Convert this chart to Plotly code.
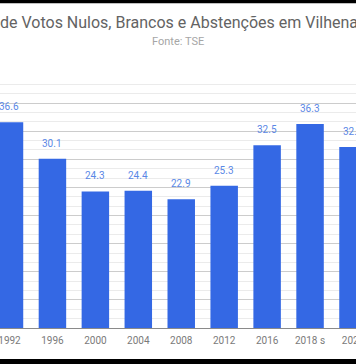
import plotly.graph_objects as go

years = ["1992", "1996", "2000", "2004", "2008", "2012", "2016", "2018 s", "2020"]
values = [36.6, 30.1, 24.3, 24.4, 22.9, 25.3, 32.5, 36.3, 32.2]
title_text = "de Votos Nulos, Brancos e Abstenções em Vilhena"
subtitle_text = "Fonte: TSE"

BAR = "#3468e4"
W, H = 356, 364
top_m, bot_m = 75, 36
plot_h = H - top_m - bot_m
Y_MAX, MAJOR = 45, 5
minor_vals = [k * MAJOR / 3 for k in range(int(Y_MAX / MAJOR * 3) + 1) if k % 3]

fig = go.Figure()
# invisible helper trace to carry the minor grid axis
fig.add_trace(go.Scatter(x=[0], y=[0], yaxis="y2", mode="markers",
                         marker=dict(opacity=0), hoverinfo="skip", showlegend=False))
fig.add_trace(go.Bar(x=list(range(len(years))), y=values,
                     marker=dict(color=BAR, line=dict(width=0)), hoverinfo="skip"))

annotations = []
for i, yv in enumerate(values):
    annotations.append(dict(x=i, y=yv, xref="x", yref="y", text=f"{yv:.1f}",
                            showarrow=False, yanchor="middle", yshift=15.5,
                            font=dict(family="Roboto", size=10, color="#5a88e6")))
annotations.append(dict(x=0.5, y=1 + (top_m - 41.5) / plot_h, xref="paper", yref="paper",
                        text=subtitle_text, showarrow=False, yanchor="middle",
                        font=dict(family="Roboto", size=11, color="#a6a6a6")))

shapes = [
    dict(type="rect", xref="paper", yref="paper", x0=0, x1=1,
         y0=1 + (top_m - 3.3) / plot_h, y1=1 + top_m / plot_h,
         fillcolor="black", line=dict(width=0), layer="above"),
    dict(type="rect", xref="paper", yref="paper", x0=0, x1=1,
         y0=-bot_m / plot_h, y1=-(359 - (H - bot_m)) / plot_h,
         fillcolor="black", line=dict(width=0), layer="above"),
]

fig.update_layout(
    width=W, height=H, autosize=False,
    margin=dict(l=0, r=0, t=top_m, b=bot_m, pad=0, autoexpand=False),
    paper_bgcolor="white", plot_bgcolor="white",
    showlegend=False,
    bargap=0.36,
    title=dict(text=title_text, x=0.0, xanchor="left", xref="paper",
               y=1 - 22 / H, yanchor="middle",
               font=dict(family="Roboto", size=16, color="#636363")),
    annotations=annotations,
    shapes=shapes,
    xaxis=dict(range=[-0.221, 8.07], showgrid=False,
               tickmode="array", tickvals=list(range(len(years))), ticktext=years,
               showline=True, linecolor="#8a8a8a", linewidth=1,
               ticks="", ticklabelstandoff=3, ticklabeloverflow="allow",
               tickfont=dict(family="Roboto", size=10, color="#7a7a7a"),
               fixedrange=True, automargin=False),
    yaxis=dict(range=[0, Y_MAX], tickmode="linear", dtick=MAJOR, tick0=0,
               showgrid=True, gridcolor="#cccccc", gridwidth=1, ticks="",
               showticklabels=False, zeroline=False, showline=False, fixedrange=True,
               automargin=False),
    yaxis2=dict(range=[0, Y_MAX], overlaying="y", side="left", ticks="",
                tickmode="array", tickvals=minor_vals,
                showgrid=True, gridcolor="#ebebeb", gridwidth=1,
                showticklabels=False, zeroline=False, showline=False, fixedrange=True,
                automargin=False),
)

fig.write_html(
    "out.html",
    post_script="document.body.style.margin='0';document.body.style.overflow='hidden';"
                "document.documentElement.style.overflow='hidden';",
    config={"displayModeBar": False, "responsive": False},
)
